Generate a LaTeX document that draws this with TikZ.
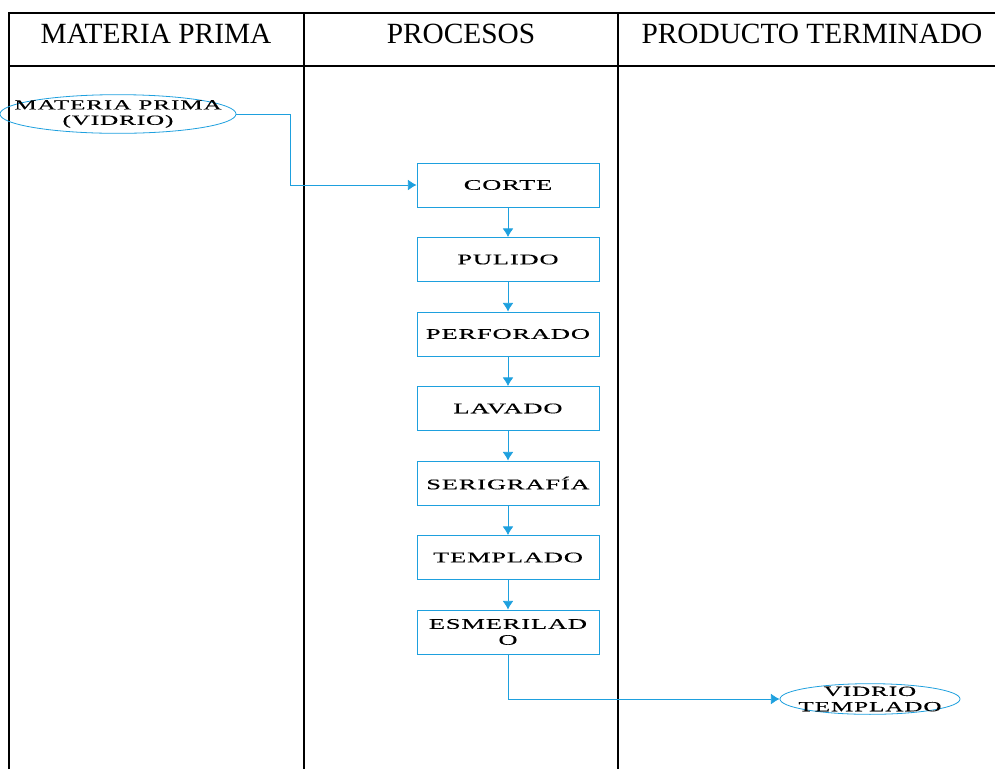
\documentclass[tikz,border=0pt]{standalone}
\usepackage{fontspec}
\setmainfont{Liberation Serif}
\newfontfamily\procfont[FakeStretch=1.8,LetterSpace=6,FakeBold=0.3]{Liberation Serif}
\usepackage{tikz}
\usetikzlibrary{shapes,arrows.meta,positioning,calc}
\definecolor{flowblue}{RGB}{30,160,222}

\begin{document}
\begin{tikzpicture}[x=0.75pt, y=-0.75pt,
    lane/.style={draw=black, line width=1.5pt},
    head/.style={font=\fontsize{22}{24}\selectfont, anchor=center},
    proc/.style={draw=flowblue, line width=0.6pt, minimum width=136.5pt, minimum height=33pt, align=center, inner sep=1pt, font=\procfont\fontsize{11}{12}\selectfont},
    term/.style={draw=flowblue, line width=0.6pt, ellipse, inner sep=0pt},
    termtext/.style={align=center, inner sep=0pt, font=\procfont\fontsize{10.5}{11.5}\selectfont},
    flow/.style={-{Latex[length=6.5pt,width=8pt]}, draw=flowblue, line width=0.6pt}
]
    \useasboundingbox (0,0) rectangle (995,769);

    % Swimlane table
    \draw[lane] (9,769) -- (9,13) -- (995,13);
    \draw[lane] (9,66) -- (995,66);
    \draw[lane] (304,13) -- (304,769);
    \draw[lane] (618,13) -- (618,769);

    \node[head] (h_mp) at (156,34) {MATERIA PRIMA};
    \node[head] (h_pr) at (461,34) {PROCESOS};
    \node[head] (h_pt) at (812,34) {PRODUCTO TERMINADO};

    % Raw material
    \node[term, minimum width=177pt, minimum height=29pt] (vidrio) at (118,114) {};
    \node[termtext] (vidrio_txt) at (vidrio) {MATERIA PRIMA\\(VIDRIO)};

    % Process steps
    \node[proc] (corte) at (508,185) {CORTE};
    \node[proc] (pulido) at (508,259.5) {PULIDO};
    \node[proc] (perforado) at (508,334) {PERFORADO};
    \node[proc] (lavado) at (508,408.5) {LAVADO};
    \node[proc] (serigrafia) at (508,483) {SERIGRAFÍA};
    \node[proc] (templado) at (508,557.5) {TEMPLADO};
    \node[proc] (esmerilado) at (508,632) {ESMERILAD\\O};

    % Finished product
    \node[term, minimum width=135pt, minimum height=23pt] (producto) at (870,699) {};
    \node[termtext] (producto_txt) at (producto) {VIDRIO\\TEMPLADO};

    % Arrows
    \draw[flow] (vidrio.east) -- (290,114) |- (corte.west);
    \draw[flow] (corte) -- (pulido);
    \draw[flow] (pulido) -- (perforado);
    \draw[flow] (perforado) -- (lavado);
    \draw[flow] (lavado) -- (serigrafia);
    \draw[flow] (serigrafia) -- (templado);
    \draw[flow] (templado) -- (esmerilado);
    \draw[flow] (esmerilado.south) |- (producto.west);
\end{tikzpicture}
\end{document}
